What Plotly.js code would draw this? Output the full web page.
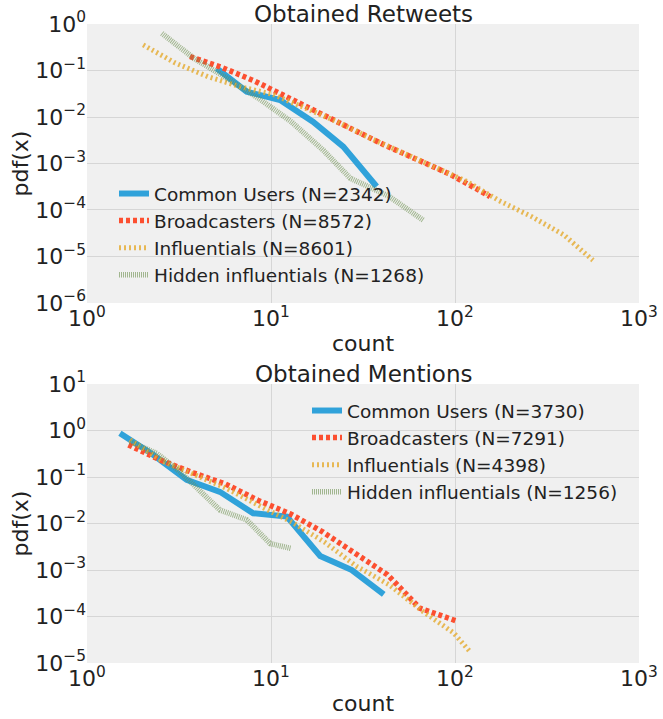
<!DOCTYPE html>
<html><head><meta charset="utf-8">
<script src="https://cdn.plot.ly/plotly-3.0.1.min.js"></script>
<style>html,body{margin:0;padding:0;background:#fff}#chart{width:663px;height:719px}</style>
</head><body><div id="chart"></div>
<script>
// ---------- data ----------
const seriesNames = ['Common Users', 'Broadcasters', 'Influentials', 'Hidden influentials'];
const retweetN = [2342, 8572, 8601, 1268];
const mentionN = [3730, 7291, 4398, 1256];

// Obtained Retweets
const rtCommonX = [5.07, 7.38, 11.2, 16.9, 24.7, 37.5];
const rtCommonY = [0.111, 0.035, 0.0232, 0.0079, 0.0023, 0.00032];
const rtBroadX = [3.63, 5.45, 8.17, 12.2, 18.4, 27.5, 41.3, 61.9, 92.9, 139, 155];
const rtBroadY = [0.200, 0.115, 0.059, 0.027, 0.0123, 0.0055, 0.0025, 0.00123, 0.0006, 0.00025, 0.000195];
const rtInflX = [2.02, 3.02, 4.53, 6.79, 10.2, 15.3, 22.9, 34.4, 51.5, 77.3, 116, 174, 261, 391, 562];
const rtInflY = [0.355, 0.145, 0.074, 0.0447, 0.0309, 0.0158, 0.0079, 0.00355, 0.0017, 0.00083, 0.00041, 0.000158, 7.2e-5, 2.9e-5, 8.3e-6];
const rtHidX = [2.55, 3.82, 5.73, 8.59, 12.9, 19.3, 27.0, 43.5, 67.3];
const rtHidY = [0.63, 0.182, 0.069, 0.025, 0.0079, 0.0019, 0.00048, 0.0002, 6.0e-5];

// Obtained Mentions
const mnCommonX = [1.51, 2.29, 3.48, 5.28, 8.0, 12.2, 18.5, 27.5, 41];
const mnCommonY = [0.87, 0.30, 0.087, 0.048, 0.0166, 0.0141, 0.0020, 0.0010, 0.00030];
const mnBroadX = [1.68, 2.52, 3.78, 5.66, 8.49, 12.7, 19.1, 28.6, 43.0, 64.4, 104];
const mnBroadY = [0.49, 0.229, 0.123, 0.0708, 0.0316, 0.0162, 0.0066, 0.00234, 0.00079, 0.000151, 7.8e-5];
const mnInflX = [1.71, 2.57, 3.85, 5.78, 8.67, 13.0, 19.5, 29.2, 43.9, 65.8, 98.6, 120];
const mnInflY = [0.63, 0.219, 0.112, 0.056, 0.024, 0.0107, 0.0040, 0.0012, 0.00048, 0.000135, 4.4e-5, 1.8e-5];
const mnHidX = [1.71, 2.39, 3.20, 5.28, 7.38, 9.9, 12.9];
const mnHidY = [0.575, 0.324, 0.130, 0.0195, 0.012, 0.0037, 0.0029];

// ticks
const xTickVals = [1, 10, 100, 1000];
const xTickText = ['10<sup>0</sup>', '10<sup>1</sup>', '10<sup>2</sup>', '10<sup>3</sup>'];
const yTopTickVals = [1e-6, 1e-5, 1e-4, 1e-3, 1e-2, 1e-1, 1];
const yTopTickText = ['10<sup>−6</sup>', '10<sup>−5</sup>', '10<sup>−4</sup>', '10<sup>−3</sup>', '10<sup>−2</sup>', '10<sup>−1</sup>', '10<sup>0</sup>'];
const yBotTickVals = [1e-5, 1e-4, 1e-3, 1e-2, 1e-1, 1, 10];
const yBotTickText = ['10<sup>−5</sup>', '10<sup>−4</sup>', '10<sup>−3</sup>', '10<sup>−2</sup>', '10<sup>−1</sup>', '10<sup>0</sup>', '10<sup>1</sup>'];

// ---------- styles ----------
const FONT = 'DejaVu Sans, sans-serif';
const styles = [
  {color: '#30a2da', width: 6, dash: 'solid'},
  {color: '#fc4f30', width: 5.5, dash: '4px,3px'},
  {color: 'rgba(229,174,56,0.85)', width: 5, dash: '2px,3px'},
  {color: 'rgba(109,144,79,0.6)', width: 5.5, dash: '1px,1px'}
];

function mk(x, y, i, n, xa, ya, leg) {
  return {x: x, y: y, type: 'scatter', mode: 'lines', xaxis: xa, yaxis: ya,
    name: seriesNames[i] + ' (N=' + n[i] + ')', legend: leg,
    line: {color: styles[i].color, width: styles[i].width, dash: styles[i].dash}};
}

const data = [
  mk(rtCommonX, rtCommonY, 0, retweetN, 'x', 'y', 'legend'),
  mk(rtBroadX, rtBroadY, 1, retweetN, 'x', 'y', 'legend'),
  mk(rtInflX, rtInflY, 2, retweetN, 'x', 'y', 'legend'),
  mk(rtHidX, rtHidY, 3, retweetN, 'x', 'y', 'legend'),
  mk(mnCommonX, mnCommonY, 0, mentionN, 'x2', 'y2', 'legend2'),
  mk(mnBroadX, mnBroadY, 1, mentionN, 'x2', 'y2', 'legend2'),
  mk(mnInflX, mnInflY, 2, mentionN, 'x2', 'y2', 'legend2'),
  mk(mnHidX, mnHidY, 3, mentionN, 'x2', 'y2', 'legend2')
];

const tickFont = {family: FONT, size: 22, color: '#222'};
const titleFont = {family: FONT, size: 22, color: '#222'};
function xax(anchor) {
  return {type: 'log', range: [0, 3], anchor: anchor, tickvals: xTickVals, ticktext: xTickText,
    tickfont: tickFont, gridcolor: '#d6d6d6', gridwidth: 1, zeroline: false, showline: false,
    ticks: '', title: {text: 'count', font: titleFont, standoff: 5}};
}
function yax(anchor, dom, rng, tv, tt) {
  return {type: 'log', range: rng, domain: dom, anchor: anchor, tickvals: tv, ticktext: tt,
    tickfont: tickFont, gridcolor: '#d6d6d6', gridwidth: 1, zeroline: false, showline: false,
    ticks: '', title: {text: 'pdf(x)', font: titleFont, standoff: 0}};
}
const legFont = {family: FONT, size: 18.5, color: '#222'};

const layout = {
  width: 663, height: 719,
  margin: {l: 87, r: 24, t: 24, b: 56},
  paper_bgcolor: '#ffffff', plot_bgcolor: '#f0f0f0',
  showlegend: true,
  xaxis: xax('y'),
  yaxis: yax('x', [0.5634, 1], [-6, 0], yTopTickVals, yTopTickText),
  xaxis2: xax('y2'),
  yaxis2: yax('x2', [0, 0.4366], [-5, 1], yBotTickVals, yBotTickText),
  legend: {x: (114 - 87) / 552, y: (663 - 175) / 639, xanchor: 'left', yanchor: 'top',
    bgcolor: 'rgba(0,0,0,0)', font: legFont, traceorder: 'normal', tracegroupgap: 0},
  legend2: {x: (307 - 87) / 552, y: (663 - 392) / 639, xanchor: 'left', yanchor: 'top',
    bgcolor: 'rgba(0,0,0,0)', font: legFont, traceorder: 'normal', tracegroupgap: 0},
  annotations: [
    {text: 'Obtained Retweets', xref: 'paper', yref: 'paper', x: 0.5, y: 1, xanchor: 'center', yanchor: 'bottom',
      yshift: -5, showarrow: false, font: {family: FONT, size: 23, color: '#222'}},
    {text: 'Obtained Mentions', xref: 'paper', yref: 'paper', x: 0.5, y: 0.4366, xanchor: 'center', yanchor: 'bottom',
      yshift: -5, showarrow: false, font: {family: FONT, size: 23, color: '#222'}}
  ]
};

Plotly.newPlot('chart', data, layout, {displayModeBar: false, staticPlot: true});
</script>
</body></html>
